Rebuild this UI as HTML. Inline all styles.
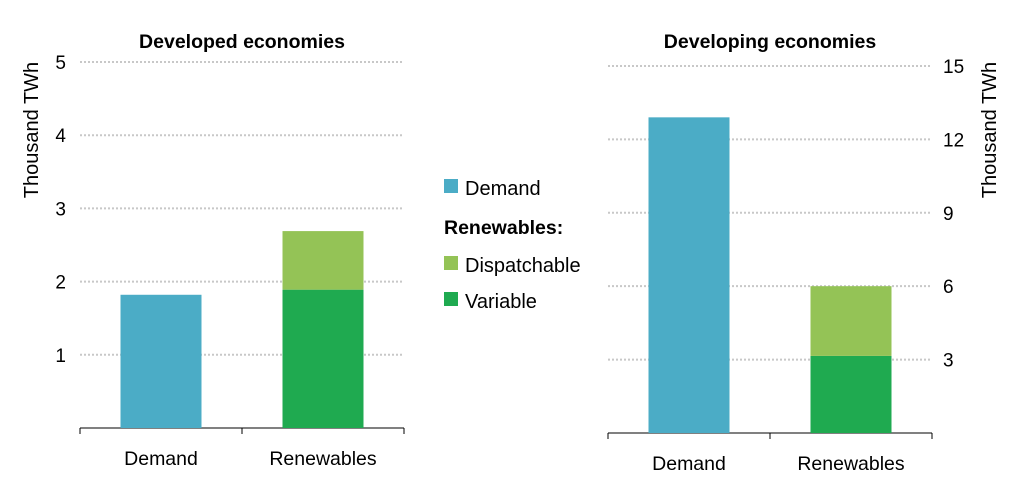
<!DOCTYPE html>
<html><head><meta charset="utf-8"><style>
body{margin:0;background:#fff;width:1012px;height:492px;overflow:hidden}
svg text{font-family:"Liberation Sans",sans-serif;fill:#000}
</style></head><body>
<svg id="c" width="1012" height="492"></svg>
<script>
const categories=["Demand","Renewables"];
const devDemand=[1.82,0];
const devVariable=[0,1.89];
const devDispatch=[0,0.80];
const devTicks=[1,2,3,4,5];
const dvgDemand=[12.9,0];
const dvgVariable=[0,3.15];
const dvgDispatch=[0,2.85];
const dvgTicks=[3,6,9,12,15];
const C={dem:"#4bacc6",disp:"#94c356",vari:"#1faa50"};
const svg=document.getElementById('c');const NS="http://www.w3.org/2000/svg";
function mk(t,a,txt){const e=document.createElementNS(NS,t);for(const k in a)e.setAttribute(k,a[k]);if(txt!=null)e.textContent=txt;svg.appendChild(e);return e;}
function panel(o){
 const y=v=>o.base-v*o.scale;
 o.ticks.forEach(t=>{
  const g=mk('line',{x1:o.x0,x2:o.x1,y1:y(t),y2:y(t),stroke:"#c8c8c8","stroke-width":2,"stroke-dasharray":"2,2"});
  
  const l=mk('text',{x:o.tx,y:y(t)+7,"font-size":19,"text-anchor":o.anchor},t);
  
 });
 const ax=mk('line',{x1:o.x0,x2:o.x1,y1:o.base,y2:o.base,stroke:"#000","stroke-width":1});
 
 const w=(o.x1-o.x0)/categories.length;
 for(let i=0;i<=categories.length;i++){const t=mk('line',{x1:o.x0+i*w,x2:o.x0+i*w,y1:o.base,y2:o.base+6,stroke:"#000"});}
 categories.forEach((c,i)=>{
  const cx=o.x0+w*(i+0.5),bw=81;let acc=0;
  [[o.dem,C.dem,'bar-demand'],[o.vari,C.vari,'bar-variable'],[o.disp,C.disp,'bar-dispatchable']].forEach(([arr,col,n])=>{
   const v=arr[i];if(!v)return;
   const r=mk('rect',{x:cx-bw/2,y:y(acc+v),width:bw,height:v*o.scale,fill:col});
   acc+=v;});
  const l=mk('text',{x:cx,y:o.base+37,"font-size":19.5,"text-anchor":"middle"},c);
  
 });
 const t=mk('text',{x:(o.x0+o.x1)/2,y:o.ty,"font-size":19.5,"font-weight":"bold","text-anchor":"middle"},o.title);
 
 const a=mk('text',{x:0,y:0,"font-size":20,"text-anchor":"middle",transform:`translate(${o.ax},130) rotate(-90)`},"Thousand TWh");
 
}
panel({x0:80,x1:404,base:428,scale:73.2,ticks:devTicks,dem:devDemand,vari:devVariable,disp:devDispatch,tx:66,anchor:"end",title:"Developed economies",ty:48,ax:38});
panel({x0:608,x1:932,base:433,scale:24.47,ticks:dvgTicks,dem:dvgDemand,vari:dvgVariable,disp:dvgDispatch,tx:943,anchor:"start",title:"Developing economies",ty:48,ax:996});
const leg=[["Demand",C.dem,188],["Dispatchable",C.disp,265],["Variable",C.vari,301]];
leg.forEach(([n,c,yy])=>{
 const r=mk('rect',{x:444,y:yy-9,width:14,height:14,fill:c});
 const t=mk('text',{x:465,y:yy+7,"font-size":20},n);
});
const lh=mk('text',{x:444,y:234,"font-size":19.5,"font-weight":"bold"},"Renewables:");

</script>
</body></html>
